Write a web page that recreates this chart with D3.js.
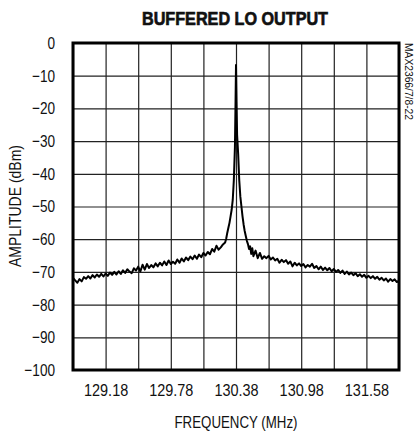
<!DOCTYPE html>
<html>
<head>
<meta charset="utf-8">
<script src="https://cdn.jsdelivr.net/npm/d3@7"></script>
<style>
  html, body { margin: 0; padding: 0; background: #fff; }
  svg { display: block; }
  text { font-family: "Liberation Sans", Arial, sans-serif; fill: #111; }
</style>
</head>
<body>
<svg id="chart" width="415" height="433"></svg>
<script>
// ---- data ----
const title = "BUFFERED LO OUTPUT";
const xLabel = "FREQUENCY (MHz)";
const yLabel = "AMPLITUDE (dBm)";
const noteLabel = "MAX2366/7/8-22";
const xDomain = [128.88, 131.88];
const yDomain = [-100, 0];
const xGridTicks = [128.88, 129.18, 129.48, 129.78, 130.08, 130.38, 130.68, 130.98, 131.28, 131.58, 131.88];
const xLabelTicks = [129.18, 129.78, 130.38, 130.98, 131.58];
const yTicks = [0, -10, -20, -30, -40, -50, -60, -70, -80, -90, -100];

const freqMHz = [
  128.88,128.90,128.92,128.94,128.96,128.98,129.00,129.02,129.04,129.06,129.08,129.10,129.12,129.14,129.16,129.18,
  129.20,129.22,129.24,129.26,129.28,129.30,129.32,129.34,129.36,129.38,129.40,129.42,129.44,129.46,129.48,129.50,
  129.52,129.54,129.56,129.58,129.60,129.62,129.64,129.66,129.68,129.70,129.72,129.74,129.76,129.78,129.80,129.82,
  129.84,129.86,129.88,129.90,129.92,129.94,129.96,129.98,130.00,130.02,130.04,130.06,130.08,130.10,130.12,130.14,
  130.16,130.18,130.20,130.22,130.24,130.26,130.28,130.29,130.30,130.31,130.32,130.33,130.34,130.35,130.36,130.37,
  130.375,130.38,130.385,130.39,130.40,130.41,130.42,130.43,130.44,130.45,130.46,130.47,130.48,130.49,130.50,130.51,
  130.52,130.53,130.54,130.56,130.58,130.60,130.62,130.64,130.66,130.68,130.70,130.72,130.74,130.76,130.78,130.80,
  130.82,130.84,130.86,130.88,130.90,130.92,130.94,130.96,130.98,131.00,131.02,131.04,131.06,131.08,131.10,131.12,
  131.14,131.16,131.18,131.20,131.22,131.24,131.26,131.28,131.30,131.32,131.34,131.36,131.38,131.40,131.42,131.44,
  131.46,131.48,131.50,131.52,131.54,131.56,131.58,131.60,131.62,131.64,131.66,131.68,131.70,131.72,131.74,131.76,
  131.78,131.80,131.82,131.84,131.86,131.88
];
const amplitudeDbm = [
  -71.8,-72.6,-73.3,-72.2,-72.9,-71.6,-72.1,-71.3,-72.0,-71.0,-71.7,-70.8,-71.5,-70.6,-71.4,-70.5,
  -71.2,-70.2,-70.9,-70.0,-70.8,-69.8,-70.6,-69.5,-70.3,-69.2,-69.9,-70.4,-68.9,-69.6,-68.4,-69.9,
  -67.8,-69.3,-67.6,-68.8,-67.9,-68.6,-67.4,-68.3,-67.2,-68.0,-66.8,-67.9,-66.5,-67.6,-66.9,-67.5,
  -66.2,-67.2,-65.9,-66.8,-65.6,-66.4,-65.3,-66.1,-65.0,-66.0,-64.7,-65.5,-64.2,-65.0,-63.9,-64.6,
  -63.0,-63.8,-62.0,-63.2,-62.5,-61.6,-61.0,-59.8,-58.0,-56.5,-55.0,-53.0,-51.0,-48.0,-42.0,-32.0,
  -20.0,-6.7,-18.0,-28.0,-34.0,-42.0,-47.0,-50.0,-53.0,-55.5,-57.5,-59.0,-60.5,-61.5,-63.0,-62.2,
  -64.5,-62.8,-65.2,-63.5,-65.8,-64.2,-66.0,-65.2,-65.8,-65.1,-66.2,-65.6,-66.5,-66.0,-67.2,-66.3,
  -67.0,-66.4,-67.5,-66.8,-68.3,-67.2,-68.0,-67.4,-68.2,-67.6,-68.6,-67.9,-68.4,-67.5,-68.8,-68.2,
  -69.2,-68.4,-69.4,-68.7,-69.5,-68.8,-69.8,-69.1,-70.0,-69.4,-70.3,-69.6,-70.6,-69.9,-70.8,-70.2,
  -71.0,-70.4,-71.3,-70.7,-71.5,-70.9,-71.8,-71.2,-71.9,-71.3,-72.1,-71.5,-72.4,-71.8,-72.6,-72.0,
  -73.0,-72.2,-72.8,-72.3,-73.1,-72.7
];

// ---- layout ----
const margin = { left: 73, right: 16, top: 43, bottom: 63 };
const W = 415, H = 433;
const svg = d3.select("#chart");
const x = d3.scaleLinear().domain(xDomain).range([margin.left, W - margin.right]);
const y = d3.scaleLinear().domain(yDomain).range([H - margin.bottom, margin.top]);

function condense(sel, factor) {
  sel.each(function () {
    const l = this.getComputedTextLength();
    this.setAttribute("textLength", l * factor);
    this.setAttribute("lengthAdjust", "spacingAndGlyphs");
  });
}
function fitTo(sel, width) {
  sel.attr("textLength", width).attr("lengthAdjust", "spacingAndGlyphs");
}

// grid
svg.append("g")
  .attr("transform", `translate(0,${H - margin.bottom})`)
  .call(d3.axisBottom(x).tickValues(xGridTicks).tickSize(-(H - margin.top - margin.bottom)).tickFormat(""))
  .call(g => g.select(".domain").remove())
  .call(g => g.selectAll("line").attr("stroke", "#222").attr("stroke-width", 1.2));
svg.append("g")
  .attr("transform", `translate(${margin.left},0)`)
  .call(d3.axisLeft(y).tickValues(yTicks).tickSize(-(W - margin.left - margin.right)).tickFormat(""))
  .call(g => g.select(".domain").remove())
  .call(g => g.selectAll("line").attr("stroke", "#222").attr("stroke-width", 1.2));

// trace
const line = d3.line().x((d, i) => x(freqMHz[i])).y(d => y(d));
svg.append("path")
  .datum(amplitudeDbm)
  .attr("d", line)
  .attr("fill", "none")
  .attr("stroke", "#000")
  .attr("stroke-width", 2)
  .attr("stroke-linejoin", "round");

// frame
svg.append("rect")
  .attr("x", margin.left).attr("y", margin.top)
  .attr("width", W - margin.left - margin.right)
  .attr("height", H - margin.top - margin.bottom)
  .attr("fill", "none").attr("stroke", "#000").attr("stroke-width", 3);

// tick labels
svg.append("g")
  .attr("transform", `translate(${margin.left},0)`)
  .call(d3.axisLeft(y).tickValues(yTicks).tickSize(0).tickPadding(18).tickFormat(d3.format("d")))
  .call(g => g.select(".domain").remove())
  .call(g => g.selectAll("text").style("font-size", "17px").style("font-family", null).attr("fill", "#111"))
  .call(g => condense(g.selectAll("text"), 0.8));
svg.append("g")
  .attr("transform", `translate(0,${H - margin.bottom})`)
  .call(d3.axisBottom(x).tickValues(xLabelTicks).tickSize(0).tickPadding(14).tickFormat(d3.format(".2f")))
  .call(g => g.select(".domain").remove())
  .call(g => g.selectAll("text").style("font-size", "17px").style("font-family", null).attr("fill", "#111"))
  .call(g => condense(g.selectAll("text"), 0.85));

// titles
svg.append("text")
  .attr("x", 235).attr("y", 25)
  .attr("text-anchor", "middle")
  .style("font-size", "19px").style("font-weight", "bold")
  .attr("stroke", "#111").attr("stroke-width", 0.7)
  .text(title)
  .call(fitTo, 186);
svg.append("text")
  .attr("x", 236).attr("y", 428)
  .attr("text-anchor", "middle")
  .style("font-size", "17px")
  .text(xLabel)
  .call(fitTo, 123);
svg.append("text")
  .attr("transform", "translate(21,206) rotate(-90)")
  .attr("text-anchor", "middle")
  .style("font-size", "17px")
  .text(yLabel)
  .call(fitTo, 122);
svg.append("text")
  .attr("transform", "translate(405,43) rotate(90)")
  .attr("text-anchor", "start")
  .style("font-size", "10px")
  .text(noteLabel)
  .call(fitTo, 77);
</script>
</body>
</html>
